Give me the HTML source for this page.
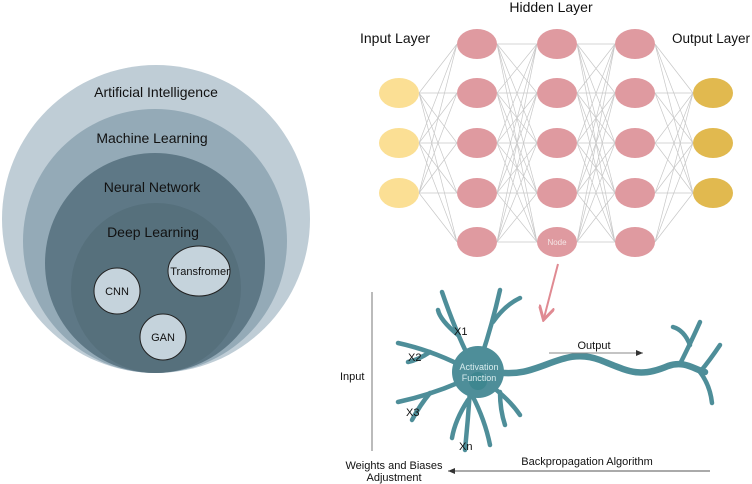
<!DOCTYPE html>
<html><head><meta charset="utf-8"><style>
html,body{margin:0;padding:0;background:#fff;}
svg{display:block;font-family:"Liberation Sans",sans-serif;}
</style></head><body>
<svg width="752" height="484" viewBox="0 0 752 484" xmlns="http://www.w3.org/2000/svg">
<defs>
<marker id="ah" markerWidth="8" markerHeight="8" refX="7" refY="4" orient="auto"><path d="M0,1 L7,4 L0,7 Z" fill="#333"/></marker>
<marker id="pk" markerWidth="8" markerHeight="8" refX="6" refY="4" orient="auto"><path d="M0,0 L7,4 L0,8" fill="none" stroke="#e08a92" stroke-width="1.5"/></marker>
</defs>
<circle cx="156" cy="219" r="154" fill="#bfcdd6"/>
<circle cx="155" cy="241" r="132" fill="#94aab7"/>
<circle cx="155" cy="263" r="110" fill="#5e7886"/>
<circle cx="156" cy="288" r="85" fill="#56707c"/>
<g font-size="14" fill="#111" text-anchor="middle">
<text x="156" y="97">Artificial Intelligence</text>
<text x="152" y="143">Machine Learning</text>
<text x="152" y="192">Neural Network</text>
<text x="153" y="237">Deep Learning</text>
</g>
<g fill="#c5d3dc" stroke="#222" stroke-width="1">
<circle cx="117" cy="291" r="23"/>
<ellipse cx="199" cy="271" rx="31" ry="25"/>
<circle cx="163" cy="337" r="23"/>
</g>
<g font-size="11" fill="#111" text-anchor="middle">
<text x="117" y="295">CNN</text>
<text x="200" y="275">Transfromer</text>
<text x="163" y="341">GAN</text>
</g>
<g stroke="#c8c8c8" stroke-width="0.7" fill="none">
<path d="M419,93L457,44M419,93L457,93M419,93L457,143M419,93L457,193M419,93L457,242M419,143L457,44M419,143L457,93M419,143L457,143M419,143L457,193M419,143L457,242M419,193L457,44M419,193L457,93M419,193L457,143M419,193L457,193M419,193L457,242"/>
<path d="M497,44L537,44M497,44L537,93M497,44L537,143M497,44L537,193M497,44L537,242M497,93L537,44M497,93L537,93M497,93L537,143M497,93L537,193M497,93L537,242M497,143L537,44M497,143L537,93M497,143L537,143M497,143L537,193M497,143L537,242M497,193L537,44M497,193L537,93M497,193L537,143M497,193L537,193M497,193L537,242M497,242L537,44M497,242L537,93M497,242L537,143M497,242L537,193M497,242L537,242"/>
<path d="M577,44L615,44M577,44L615,93M577,44L615,143M577,44L615,193M577,44L615,242M577,93L615,44M577,93L615,93M577,93L615,143M577,93L615,193M577,93L615,242M577,143L615,44M577,143L615,93M577,143L615,143M577,143L615,193M577,143L615,242M577,193L615,44M577,193L615,93M577,193L615,143M577,193L615,193M577,193L615,242M577,242L615,44M577,242L615,93M577,242L615,143M577,242L615,193M577,242L615,242"/>
<path d="M655,44L693,93M655,44L693,143M655,44L693,193M655,93L693,93M655,93L693,143M655,93L693,193M655,143L693,93M655,143L693,143M655,143L693,193M655,193L693,93M655,193L693,143M655,193L693,193M655,242L693,93M655,242L693,143M655,242L693,193"/>
</g>
<g fill="#fbdf94">
<ellipse cx="399" cy="93" rx="20" ry="15"/><ellipse cx="399" cy="143" rx="20" ry="15"/><ellipse cx="399" cy="193" rx="20" ry="15"/>
</g>
<g fill="#df9aa0">
<ellipse cx="477" cy="44" rx="20" ry="15"/><ellipse cx="477" cy="93" rx="20" ry="15"/><ellipse cx="477" cy="143" rx="20" ry="15"/><ellipse cx="477" cy="193" rx="20" ry="15"/><ellipse cx="477" cy="242" rx="20" ry="15"/>
<ellipse cx="557" cy="44" rx="20" ry="15"/><ellipse cx="557" cy="93" rx="20" ry="15"/><ellipse cx="557" cy="143" rx="20" ry="15"/><ellipse cx="557" cy="193" rx="20" ry="15"/><ellipse cx="557" cy="242" rx="20" ry="15"/>
<ellipse cx="635" cy="44" rx="20" ry="15"/><ellipse cx="635" cy="93" rx="20" ry="15"/><ellipse cx="635" cy="143" rx="20" ry="15"/><ellipse cx="635" cy="193" rx="20" ry="15"/><ellipse cx="635" cy="242" rx="20" ry="15"/>
</g>
<g fill="#e1b94f">
<ellipse cx="713" cy="93" rx="20" ry="15"/><ellipse cx="713" cy="143" rx="20" ry="15"/><ellipse cx="713" cy="193" rx="20" ry="15"/>
</g>
<text x="557" y="245" font-size="8" fill="#f5e6e6" text-anchor="middle">Node</text>
<g font-size="14" fill="#111">
<text x="551" y="12" text-anchor="middle">Hidden Layer</text>
<text x="360" y="43">Input Layer</text>
<text x="672" y="43" font-size="13.5">Output Layer</text>
</g>
<line x1="558" y1="264" x2="544" y2="318" stroke="#e08a92" stroke-width="2" marker-end="url(#pk)"/>
<g fill="none" stroke="#4e8e99" stroke-linecap="round">
<g stroke-width="4.5">
<path d="M470,360 Q455,330 442,292"/>
<path d="M458,335 Q440,320 438,310"/>
<path d="M482,355 Q492,325 500,290"/>
<path d="M493,322 Q505,305 520,298"/>
<path d="M460,365 Q430,350 398,343"/>
<path d="M430,352 Q418,360 408,362"/>
<path d="M460,382 Q430,395 398,402"/>
<path d="M430,393 Q420,405 412,420"/>
<path d="M470,390 Q468,420 465,450"/>
<path d="M472,395 Q485,420 490,445"/>
<path d="M468,400 Q455,420 452,438"/>
<path d="M490,385 Q510,400 520,415"/>
<path d="M500,392 Q500,410 505,425"/>
</g>
<path d="M495,372 C540,380 560,345 600,360 C630,372 640,378 668,366 C685,360 695,370 705,372" stroke-width="6.5"/>
<g stroke-width="4.5">
<path d="M680,364 Q692,340 700,322"/>
<path d="M690,345 Q684,330 673,327"/>
<path d="M700,372 Q710,360 720,345"/>
<path d="M700,372 Q710,385 712,403"/>
</g>
</g>
<circle cx="478" cy="372" r="26" fill="#4e8e99"/>
<circle cx="478" cy="381" r="9" fill="#3e8790"/>
<g font-size="9" fill="#d8ecee" text-anchor="middle"><text x="479" y="370">Activation</text><text x="479" y="381">Function</text></g>
<g font-size="11" fill="#111">
<text x="454" y="335">X1</text><text x="408" y="361">X2</text><text x="406" y="416">X3</text><text x="459" y="450">Xn</text>
<text x="340" y="380">Input</text>
<text x="394" y="469" text-anchor="middle">Weights and Biases</text>
<text x="394" y="481" text-anchor="middle">Adjustment</text>
<text x="594" y="349" text-anchor="middle">Output</text>
<text x="587" y="465" text-anchor="middle">Backpropagation Algorithm</text>
</g>
<line x1="372" y1="292" x2="372" y2="451" stroke="#777" stroke-width="1"/>
<line x1="549" y1="353" x2="643" y2="353" stroke="#888" stroke-width="1" marker-end="url(#ah)"/>
<line x1="710" y1="471" x2="448" y2="471" stroke="#555" stroke-width="1" marker-end="url(#ah)"/>
</svg>
</body></html>
